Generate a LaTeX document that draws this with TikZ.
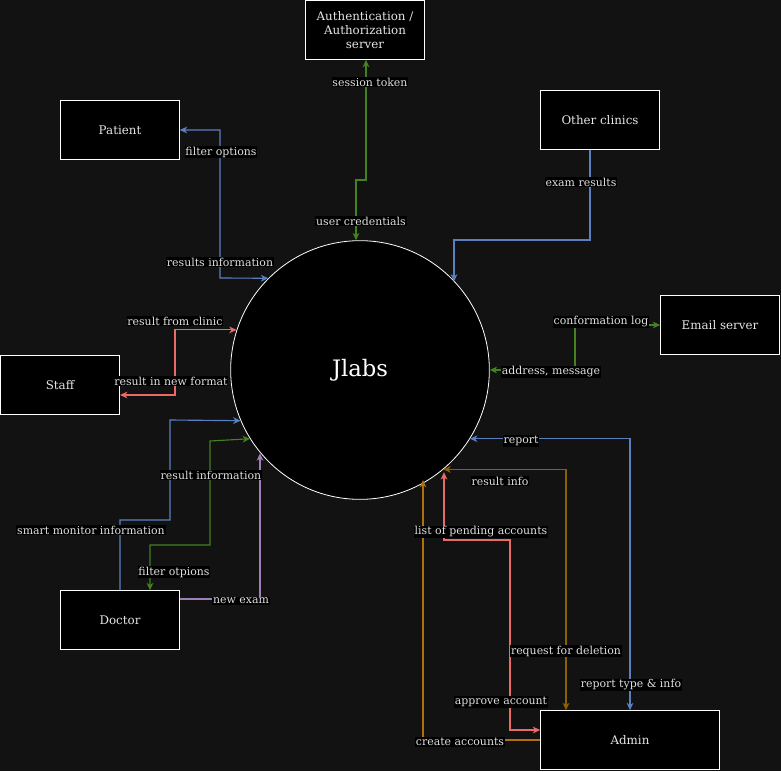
\documentclass[tikz,border=0pt]{standalone}
\usepackage{fontspec}
\setmainfont{DejaVu Serif}
\usetikzlibrary{arrows.meta}
\definecolor{bg}{HTML}{121212}
\definecolor{cblue}{HTML}{5B80C0}
\definecolor{cgreen}{HTML}{43821F}
\definecolor{cred}{HTML}{EA6B66}
\definecolor{cpurple}{HTML}{A07EB8}
\definecolor{cbrown}{HTML}{8A6000}
\definecolor{corange}{HTML}{B0700E}
\begin{document}
\begin{tikzpicture}[x=0.75pt,y=-0.75pt,
  box/.style={draw=white, fill=black, text=white!90!black, line width=0.75pt,
    minimum width=89pt, minimum height=44pt, inner sep=0pt, align=center,
    font=\fontsize{8.9}{10.2}\selectfont},
  lab/.style={fill=black, text=white!88!black, inner sep=0.6pt,
    font=\fontsize{8.2}{9}\selectfont},
  conn/.style={line width=0.85pt},
  tip/.style={-{Stealth[length=5.5pt,width=5pt,inset=1.6pt]}},
  tips/.style={{Stealth[length=5.5pt,width=5pt,inset=1.6pt]}-{Stealth[length=5.5pt,width=5pt,inset=1.6pt]}}]
\fill[bg] (0,0) rectangle (781,771);
\useasboundingbox (0,0) rectangle (781,771);

% nodes
\node[draw=white, fill=black, circle, minimum size=194pt, inner sep=0pt, line width=0.6pt,
  text=white, font=\fontsize{17}{19}\selectfont] (J) at (360,370) {\raisebox{-2pt}{Jlabs}};
\node[box] (auth) at (365,30) {Authentication /\\Authorization\\server};
\node[box] (pat) at (120,130) {Patient};
\node[box] (oc) at (600,120) {Other clinics};
\node[box] (em) at (720,325) {Email server};
\node[box] (st) at (60,385) {Staff};
\node[box] (doc) at (120,620) {Doctor};
\node[box, minimum width=134pt] (adm) at (630,740) {Admin};

% coordinates
\coordinate (p1) at (220,278);
\coordinate (a1) at (366,180);
\coordinate (a2) at (356,180);
\coordinate (o0) at (590,150);
\coordinate (o1) at (454,240);
\coordinate (e1) at (575,370);
\coordinate (s1) at (175,329);
\coordinate (s2) at (120,395);
\coordinate (d1) at (170,520);
\coordinate (d2) at (170,420);
\coordinate (g1) at (210,441);
\coordinate (g2) at (210,545);
\coordinate (g3) at (150,545);
\coordinate (v1) at (260,599);
\coordinate (r1) at (630,440);
\coordinate (b1) at (566,471);
\coordinate (k1) at (510,730);
\coordinate (k2) at (510,540);
\coordinate (k3) at (444,540);
\coordinate (c1) at (423,740);

% connectors
\draw[conn, cblue, tips] (pat.east) -| (p1) -- (J.135);
\draw[conn, cgreen, tips] (auth.south -| a1) -- (a1) -- (a2) -- (a2 |- J.north);
\draw[conn, cblue, tip] (o0) |- (o1) -- (o1 |- J.43);
\draw[conn, cgreen, tips] (J.east) -| (e1 |- em.west) -- (em.west);
\draw[conn, cred, tips] (J.162) -| (s1 |- s2) -- (s2);
\draw[conn, cblue, tip] (doc.north) |- (d1) -- (d2) -- (J.203);
\draw[conn, cgreen, tips] (J.212) -- (g1) -- (g2) -- (g3) -- (g3 |- doc.north);
\draw[conn, cpurple, tip] (doc.east |- v1) -- (v1) -- (v1 |- J.220);
\draw[conn, cblue, tips] (J.-32) -| (r1) -- (r1 |- adm.north);
\draw[conn, cbrown, tips] (J.-50) -| (b1) -- (b1 |- adm.north);
\draw[conn, cred, tips] (k3 |- J.-52) -- (k3) -- (k2) -- (k1) -- (adm.west |- k1);
\draw[conn, corange, tip] (adm.west |- c1) -- (c1) -- (c1 |- J.-58);

% labels
\node[lab] (l1) at (221,152) {filter options};
\node[lab] (l2) at (220,262) {results information};
\node[lab] (l3) at (370,82) {session token};
\node[lab] (l4) at (361,221) {user credentials};
\node[lab] (l5) at (581,182) {exam results};
\node[lab] (l6) at (601,322) {conformation log};
\node[lab] (l7) at (551,372) {address, message};
\node[lab] (l8) at (175,321) {result from clinic};
\node[lab] (l9) at (171,381) {result in new format};
\node[lab] (l10) at (91,530) {smart monitor information};
\node[lab] (l11) at (211,475) {result information};
\node[lab] (l12) at (174,572) {filter otpions};
\node[lab] (l13) at (241,601) {new exam};
\node[lab] (l14) at (521,441) {report};
\node[lab] (l15) at (631,685) {report type \& info};
\node[lab] (l16) at (500,481) {result info};
\node[lab] (l17) at (566,651) {request for deletion};
\node[lab] (l18) at (481,532) {list of pending accounts};
\node[lab] (l19) at (501,702) {approve account};
\node[lab] (l20) at (460,742) {create accounts};
\end{tikzpicture}
\end{document}
